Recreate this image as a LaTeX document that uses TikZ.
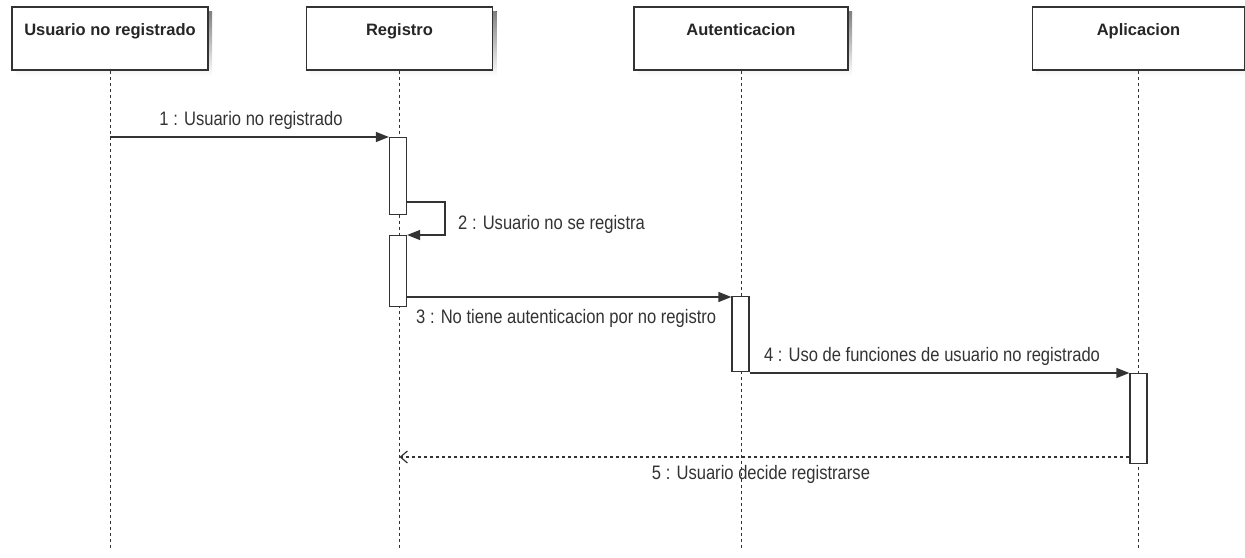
\documentclass[tikz,border=0pt]{standalone}
\usepackage{fontspec}
\setmainfont{Liberation Sans}
\newfontfamily\msgfont[FakeStretch=0.85]{Liberation Sans}
\usetikzlibrary{arrows.meta}
\definecolor{ink}{HTML}{333333}
\definecolor{shade}{HTML}{E8E8E8}
\tikzset{
  pbox/.style={draw=ink, line width=1.3pt, fill=white, minimum height=63pt, inner sep=0pt},
  ptitle/.style={font=\bfseries\fontsize{16.5}{18}\selectfont, text=black!85, anchor=north, inner sep=0pt},
  lifeline/.style={draw=ink, line width=1pt, dash pattern=on 3pt off 3pt},
  actbar/.style={draw=ink, line width=1.2pt, fill=white, minimum width=17pt, inner sep=0pt},
  msg/.style={draw=ink, line width=1.2pt, -{Triangle[length=13pt,width=10pt]}},
  reply/.style={draw=ink, line width=1.2pt, dash pattern=on 3pt off 3pt, -{Straight Barb[length=7pt,width=12pt]}},
  mlabel/.style={font=\msgfont\fontsize{19.5}{21}\selectfont, text=ink, inner sep=0pt},
}
\begin{document}
\begin{tikzpicture}[x=1pt,y=-1pt]
\useasboundingbox (0,0) rectangle (1245,557);

% soft shadows under the participant boxes
\foreach \cx/\w in {110/196, 399.5/186, 741/214, 1138.5/212}{
  \fill[shade] (\cx-\w/2+4,11) rectangle (\cx+\w/2+4,76);
}

% participants
\node[pbox, minimum width=196pt] (pu) at (110,38.5) {};
\node[pbox, minimum width=186pt] (pr) at (399.5,38.5) {};
\node[pbox, minimum width=214pt] (pa) at (741,38.5) {};
\node[pbox, minimum width=212pt] (pp) at (1138.5,38.5) {};
\node[ptitle] (tu) at ([yshift=-16.5pt]pu.north) {Usuario no registrado};
\node[ptitle] (tr) at ([yshift=-16.5pt]pr.north) {Registro};
\node[ptitle] (ta) at ([yshift=-16.5pt]pa.north) {Autenticacion};
\node[ptitle] (tp) at ([yshift=-16.5pt]pp.north) {Aplicacion};

% lifeline ends
\coordinate (eu) at (pu.south |- 0,550);
\coordinate (er) at (pr.south |- 0,550);
\coordinate (ea) at (pa.south |- 0,550);
\coordinate (ep) at (pp.south |- 0,550);
\draw[lifeline] (pu.south) -- (eu);
\draw[lifeline] (pr.south) -- (er);
\draw[lifeline] (pa.south) -- (ea);
\draw[lifeline] (pp.south) -- (ep);

% activation bars
\node[actbar, minimum height=77pt, anchor=north] (r1) at (398,137) {};
\node[actbar, minimum height=71pt, anchor=north] (r2) at (398,235) {};
\node[actbar, minimum height=75pt, anchor=north] (a1) at (740.5,296) {};
\node[actbar, minimum height=90pt, anchor=north] (p1) at (1138.5,373) {};

% 1: call into Registro
\coordinate (s1) at (pu.south |- r1.north);
\draw[msg] (s1) -- (r1.north west);
\node[mlabel] (l1) at (251,120) {1 : Usuario no registrado};

% 2: self call
\coordinate (k1) at (445,202);
\coordinate (k2) at (445,235);
\draw[msg] (r1.east |- k1) -- (k1) -- (k2) -- (r2.north east);
\node[mlabel, anchor=west] (l2) at (458,224) {2 : Usuario no se registra};

% 3: Registro to Autenticacion
\draw[msg] (r2.east |- 0,297) -- (a1.west |- 0,297);
\node[mlabel, anchor=west] (l3) at (416,318) {3 : No tiene autenticacion por no registro};

% 4: Autenticacion to Aplicacion
\draw[msg] (a1.east |- p1.north) -- (p1.north west);
\node[mlabel] (l4) at (932,356) {4 : Uso de funciones de usuario no registrado};

% 5: reply back to Registro
\coordinate (m5) at (pr.south |- 0,457);
\draw[reply] (p1.west |- m5) -- (m5);
\node[mlabel] (l5) at (761,474) {5 : Usuario decide registrarse};
\end{tikzpicture}
\end{document}
